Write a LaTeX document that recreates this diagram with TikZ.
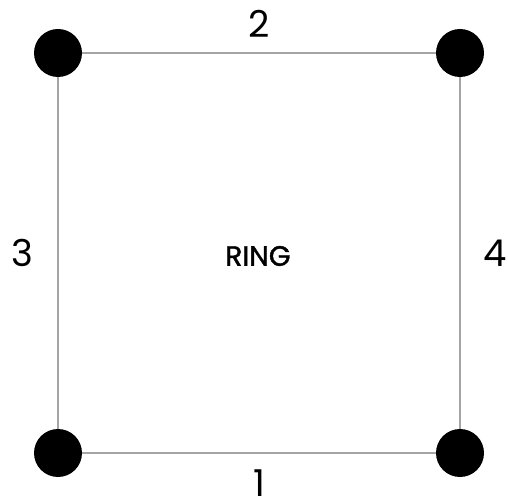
\documentclass[tikz,border=0pt]{standalone}
\usepackage{fontspec}
\setmainfont{Poppins}
\usepackage{tikz}
\usetikzlibrary{positioning}
\definecolor{ringgray}{RGB}{165,165,165}

\begin{document}
\begin{tikzpicture}[x=1pt,y=1pt,every node/.style={font=\fontsize{37}{40}\selectfont,inner sep=0pt},
  dot/.style={circle,fill=black,minimum size=48pt},
  link/.style={draw=ringgray,line width=2.4pt}]
        \useasboundingbox (0,0) rectangle (508,500);
        \node[dot] (tl) at (58,447) {};
        \node[dot] (tr) at (460,447) {};
        \node[dot] (bl) at (58,47) {};
        \node[dot] (br) at (460,47) {};
        \draw[link] (bl) -- node[below=16pt] (one) {1} (br);
        \draw[link] (tl) -- node[above=14pt] (two) {2} (tr);
        \draw[link] (tl) -- node[left=24pt] (three) {3} (bl);
        \draw[link] (tr) -- node[right=22pt] (four) {4} (br);
        \node[font=\addfontfeatures{FakeBold=1.5}\fontsize{28}{30}\selectfont] (ring) at (258,244) {RING};
      \end{tikzpicture}
\end{document}
